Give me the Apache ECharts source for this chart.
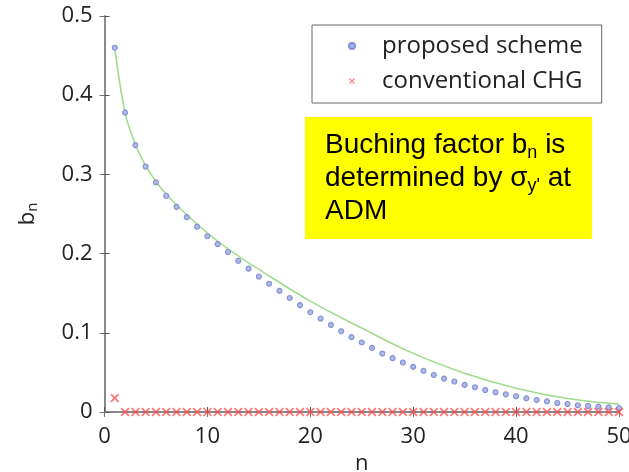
<!DOCTYPE html>
<html><head><meta charset="utf-8">
<script src="https://cdn.jsdelivr.net/npm/echarts@6/dist/echarts.min.js"></script>
<style>html,body{margin:0;padding:0;background:#fff}#c{width:629px;height:472px}</style>
</head><body><div id="c"></div>
<script>
// n = 1..50
const nValues = Array.from({length: 50}, (_, i) => i + 1);
const proposed = [0.460,0.378,0.337,0.310,0.290,0.273,0.259,0.246,0.234,0.222,
  0.212,0.202,0.191,0.181,0.171,0.162,0.153,0.144,0.135,0.126,
  0.118,0.110,0.102,0.0946,0.0878,0.081,0.0739,0.068,0.0625,0.057,
  0.052,0.0468,0.0422,0.0385,0.0342,0.0313,0.0278,0.0249,0.0224,0.0199,
  0.0173,0.0152,0.0135,0.0114,0.0101,0.0085,0.0076,0.0068,0.006,0.005];
const conventional = [0.0177].concat(Array(49).fill(0));
const curveN = [1,2,3,4,5,6,8,10,12,15,20,25,30,35,40,45,50];
const curveV = [0.460,0.378,0.338,0.311,0.291,0.275,0.249,0.226,0.206,0.180,0.140,0.106,0.074,0.049,0.030,0.017,0.010];
const xTicks = [0,10,20,30,40,50];
const yTicks = [0,0.1,0.2,0.3,0.4,0.5];

const chart = echarts.init(document.getElementById('c'));
const font = 'Open Sans';
const xShape = 'path://M0,1.4L1.4,0L5,3.6L8.6,0L10,1.4L6.4,5L10,8.6L8.6,10L5,6.4L1.4,10L0,8.6L3.6,5Z';
chart.setOption({
  animation: false,
  grid: {left: 104.5, right: 10, top: 16, bottom: 60, containLabel: false, outerBoundsMode: 'none'},
  legend: {
    orient: 'vertical', left: 312, top: 25,
    data: ['proposed scheme', 'conventional CHG'],
    borderColor: '#666', borderWidth: 1,
    padding: [9, 19, 10, 36], itemGap: 11, itemWidth: 6, itemHeight: 6,
    textStyle: {fontFamily: font, fontSize: 24, color: '#222', padding: [0,0,0,22]}
  },
  xAxis: [{
    type: 'value', min: xTicks[0], max: xTicks[xTicks.length-1], interval: 10,
    name: 'n', nameLocation: 'middle', nameGap: 41,
    nameTextStyle: {fontFamily: font, fontSize: 22, color: '#222'},
    axisLine: {lineStyle: {color: '#666', width: 1.5}},
    axisTick: {inside: true, length: 5, lineStyle: {color: '#555'}},
    axisLabel: {fontFamily: font, fontSize: 22, color: '#222', margin: 14},
    splitLine: {show: false}
  }, {
    type: 'value', position: 'top', min: 0, max: 50, interval: 10,
    axisLine: {show: true, lineStyle: {color: '#888', width: 1.5}},
    axisTick: {inside: true, length: 5, lineStyle: {color: '#777'}},
    axisLabel: {show: false}, splitLine: {show: false}
  }],
  yAxis: [{
    type: 'value', min: yTicks[0], max: yTicks[yTicks.length-1], interval: 0.1,
    name: '{b|b}{s|n}', nameLocation: 'middle', nameGap: 64, nameRotate: 90,
    nameTextStyle: {fontFamily: font, fontSize: 22, color: '#222',
      rich: {b: {fontFamily: font, fontSize: 22, color: '#222'},
             s: {fontFamily: font, fontSize: 15, color: '#222', verticalAlign: 'bottom', padding: [10,0,0,0]}}},
    axisLine: {show: true, lineStyle: {color: '#666', width: 1.5}},
    axisTick: {show: true, inside: true, length: 5, lineStyle: {color: '#555'}},
    axisLabel: {fontFamily: font, fontSize: 22, color: '#222', margin: 12},
    splitLine: {show: false}
  }, {
    type: 'value', position: 'right', min: 0, max: 0.5, interval: 0.1,
    axisLine: {show: true, lineStyle: {color: '#888', width: 1.5}},
    axisTick: {show: true, inside: true, length: 5, lineStyle: {color: '#777'}},
    axisLabel: {show: false}, splitLine: {show: false}
  }],
  series: [{
    name: 'curve', type: 'line', smooth: 0.4, showSymbol: false, z: 1,
    data: curveN.map((n, i) => [n, curveV[i]]),
    lineStyle: {color: '#9fdc8c', width: 1.6}
  }, {
    name: 'proposed scheme', type: 'scatter', symbol: 'circle', symbolSize: 5, z: 3,
    data: nValues.map((n, i) => [n, proposed[i]]),
    itemStyle: {color: '#b0b9e6', borderColor: '#8190d2', borderWidth: 1.1, opacity: 1}
  }, {
    name: 'conventional CHG', type: 'scatter', symbol: xShape, symbolSize: 9, z: 4,
    data: nValues.map((n, i) => [n, conventional[i]]),
    itemStyle: {color: '#ff4a4a', opacity: 0.75}
  }],
  graphic: [{
    type: 'rect', left: 305, top: 117, z: 10,
    shape: {width: 287, height: 122},
    style: {fill: '#ffff00'}
  }, {
    type: 'text', left: 325, top: 130, z: 11,
    style: {
      text: '{a|Buching factor b}{s|n}{a| is}\n{a|determined by σ}{s|y\'}{a| at}\n{a|ADM}',
      rich: {
        a: {fontFamily: 'Liberation Sans', fontSize: 28, fill: '#000', lineHeight: 33},
        s: {fontFamily: 'Liberation Sans', fontSize: 18, fill: '#000', lineHeight: 33, verticalAlign: 'bottom', padding: [14,0,0,0]}
      }
    }
  }]
});
</script></body></html>
